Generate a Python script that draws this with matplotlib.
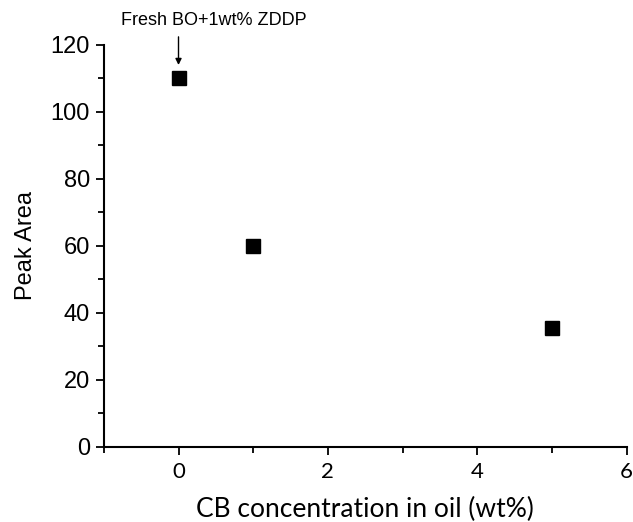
import matplotlib
matplotlib.use("Agg")
import matplotlib.pyplot as plt
from matplotlib.ticker import MultipleLocator

plt.rcParams['font.family'] = ['Liberation Sans', 'DejaVu Sans']

# data
cb_conc = [0, 1, 5]          # wt%
peak_area = [110, 60, 35.5]
note_text = "Fresh BO+1wt% ZDDP"

fig = plt.figure(figsize=(6.33, 5.22), dpi=100)
ax = fig.add_axes([0.164, 0.144, 0.826, 0.770])

ax.plot(cb_conc, peak_area, linestyle="none", marker="s", markersize=10.5, color="black")

ax.set_xlim(-1, 6)
ax.set_ylim(0, 120)
ax.xaxis.set_major_locator(MultipleLocator(2))
ax.xaxis.set_minor_locator(MultipleLocator(1))
ax.yaxis.set_major_locator(MultipleLocator(20))
ax.yaxis.set_minor_locator(MultipleLocator(10))

for s in ["top", "right"]:
    ax.spines[s].set_visible(False)
for s in ["left", "bottom"]:
    ax.spines[s].set_linewidth(1.5)

ax.tick_params(which="major", direction="out", length=6, width=1.3, pad=4)
ax.tick_params(which="minor", direction="out", length=4, width=1.3)
ax.tick_params(axis="y", labelsize=17)
ax.tick_params(axis="x", labelsize=16, pad=5)
plt.setp(ax.get_xticklabels(), family="Lato")

ax.set_ylabel("Peak Area", fontsize=17, labelpad=10)
ax.set_xlabel("CB concentration in oil (wt%)", fontsize=19, family="Lato", labelpad=10.5)

# label text and its arrow
ax.text(-0.77, 127.2, note_text, ha="left", va="center", fontsize=13, clip_on=False)
ax.annotate("", xy=(cb_conc[0], 114), xytext=(cb_conc[0], 122.4),
            arrowprops=dict(arrowstyle="-|>", color="black", lw=1, mutation_scale=9,
                            shrinkA=0, shrinkB=0),
            annotation_clip=False)

fig.savefig("out.png", dpi=100)
